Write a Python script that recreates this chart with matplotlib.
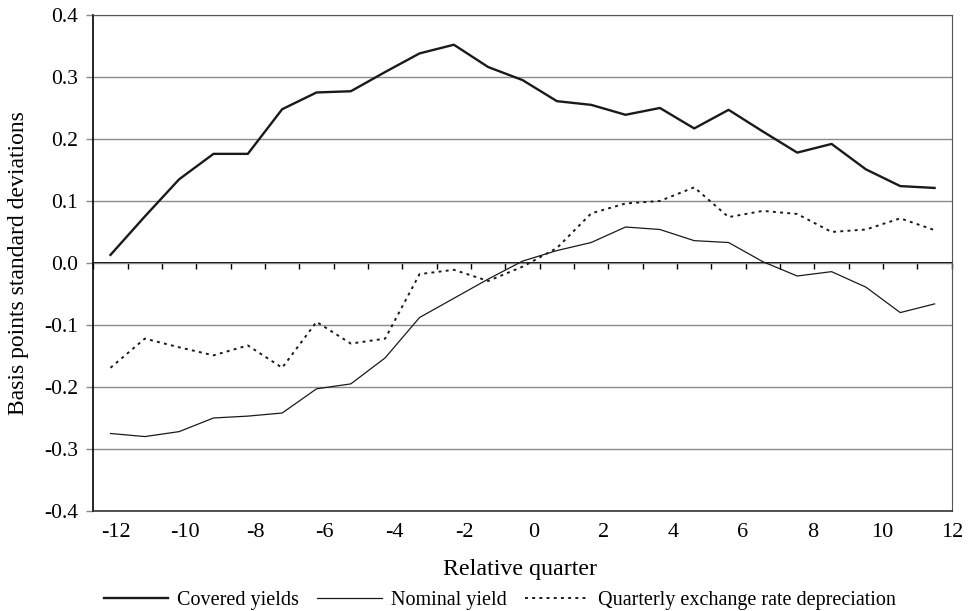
import numpy as np
import matplotlib
matplotlib.use('Agg')
import matplotlib.pyplot as plt

plt.rcParams['font.family'] = ['Liberation Serif', 'DejaVu Serif']

# Relative quarter around the event
quarters = np.arange(-12, 13)

# Standard deviations, basis points
covered_yields = [0.013, 0.075, 0.135, 0.176, 0.176, 0.248, 0.275, 0.277, 0.308,
                  0.338, 0.352, 0.316, 0.295, 0.261, 0.255, 0.239, 0.250, 0.217,
                  0.247, 0.212, 0.178, 0.192, 0.151, 0.124, 0.121]
nominal_yield = [-0.275, -0.280, -0.272, -0.250, -0.247, -0.242, -0.203, -0.195,
                 -0.153, -0.088, -0.057, -0.026, 0.003, 0.020, 0.033, 0.058,
                 0.054, 0.036, 0.033, 0.002, -0.021, -0.014, -0.039, -0.080, -0.066]
fx_depreciation = [-0.169, -0.122, -0.136, -0.149, -0.133, -0.169, -0.095, -0.130,
                   -0.122, -0.018, -0.011, -0.029, -0.006, 0.024, 0.080, 0.096,
                   0.100, 0.122, 0.074, 0.084, 0.079, 0.050, 0.054, 0.072, 0.053]

tick_values = list(range(-12, 13, 2))
y_values = [-0.4, -0.3, -0.2, -0.1, 0.0, 0.1, 0.2, 0.3, 0.4]
y_labels = ['-0.4', '-0.3', '-0.2', '-0.1', '0.0', '0.1', '0.2', '0.3', '0.4']

fig = plt.figure(figsize=(9.69, 6.11), dpi=100)
ax = fig.add_axes([0.0963, 0.1637, 0.8859, 0.8118])

ink = '#1a1a1a'
grid_col = '#8a8a8a'

ax.plot(quarters, covered_yields, color=ink, lw=1.7, label='Covered yields')
ax.plot(quarters, nominal_yield, color=ink, lw=0.9, label='Nominal yield')
ax.plot(quarters, fx_depreciation, color=ink, lw=1.4, linestyle=(0, (1.5, 2.2)),
        label='Quarterly exchange rate depreciation')

ax.set_xlim(-12.5, 12.5)
ax.set_ylim(-0.4, 0.4)

# horizontal grid
ax.set_yticks(y_values)
ax.set_yticklabels(y_labels)
ax.grid(axis='y', color=grid_col, lw=1.0)
ax.set_axisbelow(True)
ax.tick_params(axis='y', direction='out', length=5, width=1, color=grid_col,
               pad=6, labelsize=15.5)

# x labels run on their own spacing, a bit wider than the category grid
ax.set_xticks(np.linspace(-11.85, 12.5, len(tick_values)))
ax.set_xticklabels([str(v) for v in tick_values])
ax.tick_params(axis='x', length=0, pad=9, labelsize=16)

# category axis crossing at zero, ticks between the categories
zero_axis = ax.secondary_xaxis(0.5)
zero_axis.set_xticks(np.arange(-12.5, 13.0, 1.0))
zero_axis.tick_params(direction='in', length=4.5, width=1, colors='black',
                      labeltop=False, labelbottom=False)
for s in zero_axis.spines.values():
    s.set_color('black')
    s.set_linewidth(1.4)

ax.spines['left'].set_color('black')
ax.spines['left'].set_linewidth(1.2)
ax.spines['bottom'].set_color('#333333')
ax.spines['bottom'].set_linewidth(1.2)
ax.spines['top'].set_color('#555555')
ax.spines['right'].set_color('#555555')

ax.set_xlabel('Relative quarter', fontsize=17.3)
ax.xaxis.set_label_coords(0.497, -0.096)
ax.set_ylabel('Basis points standard deviations', fontsize=17)
ax.yaxis.set_label_coords(-0.075, 0.5)

fig.legend(loc='center', bbox_to_anchor=(0.516, 0.018), ncol=3, frameon=False,
           fontsize=14.5, handlelength=3.2, handletextpad=0.45, columnspacing=0.9)

fig.savefig('out.png', dpi=100)
